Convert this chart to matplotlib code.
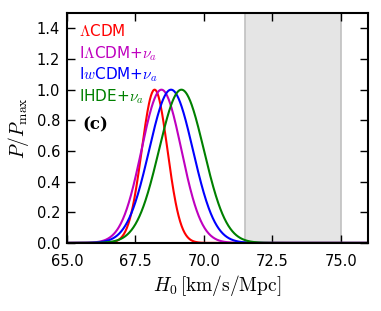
import numpy as np
import matplotlib
matplotlib.use("Agg")
import matplotlib.pyplot as plt

plt.rcParams['mathtext.fontset'] = 'cm'

# model labels, colours and posterior (mean, sigma)
models = [r"$\Lambda$CDM", r"I$\Lambda$CDM+$\nu_a$", r"I$w$CDM+$\nu_a$", r"IHDE+$\nu_a$"]
colors = ['red', 'm', 'blue', 'green']
h0_mean = [68.2, 68.45, 68.8, 69.18]
h0_sigma = [0.47, 0.73, 0.8, 0.82]

# local H0 measurement band
h0_local = [71.5, 75.0]

fig = plt.figure(figsize=(3.81, 3.11), dpi=100)
ax = fig.add_axes([0.176, 0.219, 0.79, 0.739])

ax.axvspan(h0_local[0], h0_local[1], color='#e5e5e5', ec='#c0c0c0', lw=1.2, zorder=0)

x = np.linspace(65, 76, 600)
for mu, sig, c in zip(h0_mean, h0_sigma, colors):
    ax.plot(x, np.exp(-0.5 * ((x - mu) / sig) ** 2), color=c, lw=1.5)

for i, (lab, c) in enumerate(zip(models, colors)):
    ax.text(0.04, 0.92 - i * 0.095, lab, color=c, fontsize=11, transform=ax.transAxes, va='center')
ax.text(0.05, 0.515, "(c)", fontsize=12, fontweight='bold', family='serif', transform=ax.transAxes, va='center')

ax.set_xlim(65, 76)
ax.set_ylim(0, 1.5)
ax.set_xticks([65, 67.5, 70, 72.5, 75])
ax.set_xticklabels(['65.0', '67.5', '70.0', '72.5', '75.0'])
ax.set_yticks([0, 0.2, 0.4, 0.6, 0.8, 1.0, 1.2, 1.4])
ax.tick_params(direction='in', top=True, right=True, length=6, width=1, labelsize=10.5)
ax.tick_params(axis='x', pad=8)
ax.tick_params(axis='y', pad=5)
for s in ax.spines.values():
    s.set_linewidth(1.5)

ax.set_xlabel(r"$H_0\,[\rm km/s/Mpc]$", fontsize=14, labelpad=3)
ax.set_ylabel(r"$P/P_{\rm max}$", fontsize=14)

fig.savefig("out.png", dpi=100)
